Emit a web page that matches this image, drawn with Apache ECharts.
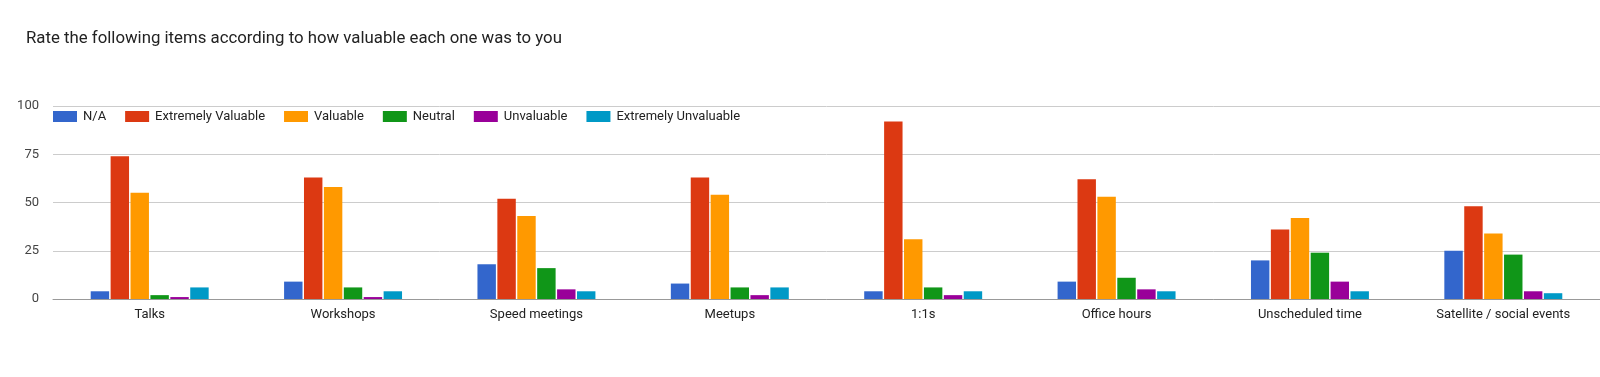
<!DOCTYPE html>
<html>
<head>
<meta charset="utf-8">
<script src="https://cdn.jsdelivr.net/npm/echarts@6/dist/echarts.min.js"></script>
<style>
html,body{margin:0;padding:0;background:#fff;}
#chart{width:1600px;height:377px;}
</style>
</head>
<body>
<div id="chart"></div>
<script>
const titleText = 'Rate the following items according to how valuable each one was to you';
const categories = ['Talks', 'Workshops', 'Speed meetings', 'Meetups', '1:1s', 'Office hours', 'Unscheduled time', 'Satellite / social events'];
const seriesNames = ['N/A', 'Extremely Valuable', 'Valuable', 'Neutral', 'Unvaluable', 'Extremely Unvaluable'];
const naValues = [4, 9, 18, 8, 4, 9, 20, 25];
const extremelyValuable = [74, 63, 52, 63, 92, 62, 36, 48];
const valuable = [55, 58, 43, 54, 31, 53, 42, 34];
const neutral = [2, 6, 16, 6, 6, 11, 24, 23];
const unvaluable = [1, 1, 5, 2, 2, 5, 9, 4];
const extremelyUnvaluable = [6, 4, 4, 6, 4, 4, 4, 3];
const yTicks = [0, 25, 50, 75, 100];
const colors = ['#3366cc', '#dc3912', '#ff9900', '#109618', '#990099', '#0099c6'];

const seriesData = [naValues, extremelyValuable, valuable, neutral, unvaluable, extremelyUnvaluable];

const chart = echarts.init(document.getElementById('chart'), null, {renderer: 'canvas'});
chart.setOption({
  animation: false,
  textStyle: {fontFamily: 'Roboto'},
  color: colors,
  title: {
    text: titleText,
    left: 21,
    top: 25,
    textStyle: {fontFamily: 'Roboto', fontSize: 16.8, fontWeight: 'normal', color: '#222'}
  },
  legend: {
    data: seriesNames,
    left: 48,
    top: 105,
    icon: 'rect',
    itemWidth: 24,
    itemHeight: 11,
    itemGap: 19,
    textStyle: {fontFamily: 'Roboto', fontSize: 13, color: '#222', padding: [0, 0, 0, 1]}
  },
  grid: {left: 53, right: 0, top: 106, bottom: 78, containLabel: false},
  xAxis: {
    type: 'category',
    data: categories,
    axisTick: {show: false},
    axisLine: {lineStyle: {color: '#999', width: 1}},
    axisLabel: {fontFamily: 'Roboto', fontSize: 13, color: '#222', margin: 9}
  },
  yAxis: {
    type: 'value',
    min: yTicks[0],
    max: yTicks[yTicks.length - 1],
    interval: 25,
    axisLine: {show: false},
    axisTick: {show: false},
    axisLabel: {fontFamily: 'Roboto', fontSize: 13, color: '#444', margin: 14},
    splitLine: {lineStyle: {color: '#cccccc', width: 1}}
  },
  series: seriesNames.map((name, i) => ({
    name: name,
    type: 'bar',
    data: seriesData[i],
    barGap: '8%',
    barCategoryGap: '39%',
    itemStyle: {color: colors[i]}
  }))
});
</script>
</body>
</html>
